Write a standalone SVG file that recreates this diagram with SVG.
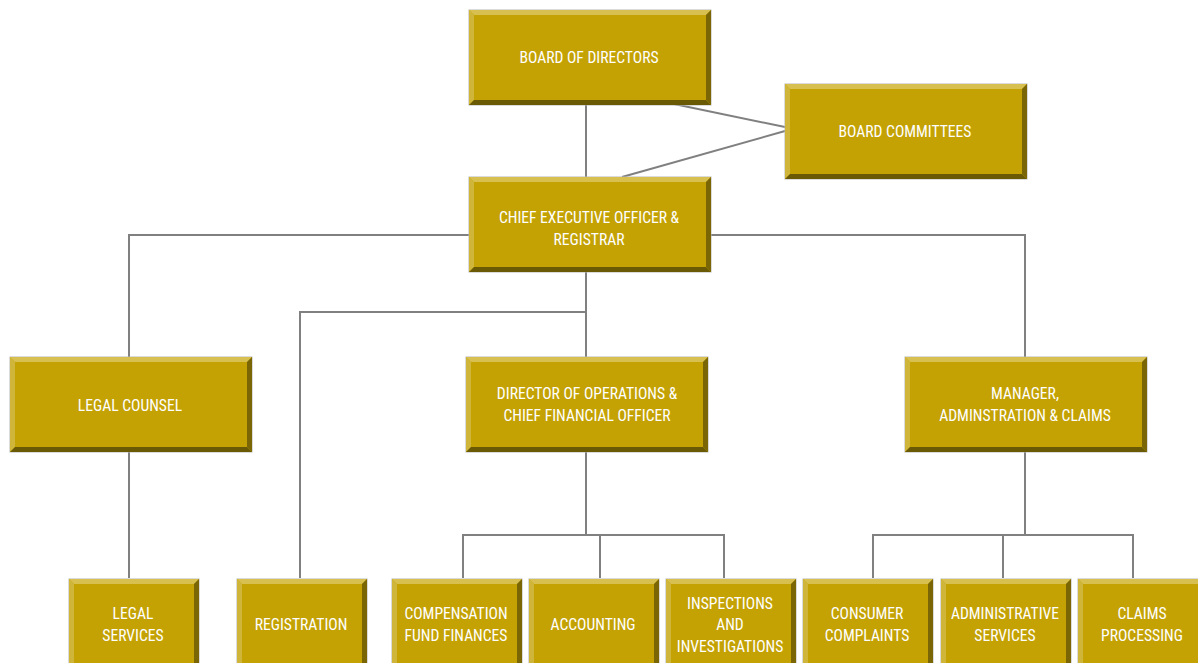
<svg xmlns="http://www.w3.org/2000/svg" xmlns:xlink="http://www.w3.org/1999/xlink" width="1198" height="663" viewBox="0 0 1198 663">
<style>
.c{stroke:#808080;stroke-width:2;fill:none}
.t{font-family:"Liberation Sans Narrow","Roboto Condensed","Liberation Sans",Arial,sans-serif;font-size:15.6px;fill:#fff;text-anchor:middle;font-stretch:condensed}
</style>
<defs>
<g id="big">
<rect x="-0.5" y="-0.5" width="243" height="96" fill="#b8b8b8"/>
<rect x="0" y="0" width="242" height="95" fill="#C4A204"/>
<polygon points="0,0 242,0 237,5 5,5" fill="#D8C050"/>
<polygon points="0,0 5,5 5,90 0,95" fill="#CFB53A"/>
<polygon points="0,95 5,90 237,90 242,95" fill="#6B5A05"/>
<polygon points="242,0 242,95 237,90 237,5" fill="#7A6604"/>
</g>
<g id="small">
<rect x="-0.5" y="-0.5" width="131" height="111" fill="#b8b8b8"/>
<rect x="0" y="0" width="130" height="110" fill="#C4A204"/>
<polygon points="0,0 130,0 125,5 5,5" fill="#D8C050"/>
<polygon points="0,0 5,5 5,110 0,110" fill="#CFB53A"/>
<polygon points="130,0 130,110 125,110 125,5" fill="#7A6604"/>
</g>
</defs>
<rect width="1198" height="663" fill="#fff"/>
<g id="connectors">
<path class="c" d="M586,105V177"/>
<path class="c" d="M674,104L785,127"/>
<path class="c" d="M622,177L785,131"/>
<path class="c" d="M469,235H129V357"/>
<path class="c" d="M711,235H1025V357"/>
<path class="c" d="M586,272V357"/>
<path class="c" d="M586,312H300V578"/>
<path class="c" d="M129,452V578"/>
<path class="c" d="M586,452V535"/>
<path class="c" d="M463,578V535H724V578"/>
<path class="c" d="M600,535V578"/>
<path class="c" d="M1025,452V535"/>
<path class="c" d="M873,578V535H1133V578"/>
<path class="c" d="M1003,535V578"/>
</g>
<g id="board"><use xlink:href="#big" href="#big" transform="translate(469,10)"/><text class="t" x="589" y="63">BOARD OF DIRECTORS</text></g>
<g id="committees"><use xlink:href="#big" href="#big" transform="translate(785,84)"/><text class="t" x="905" y="137">BOARD COMMITTEES</text></g>
<g id="ceo"><use xlink:href="#big" href="#big" transform="translate(469,177)"/><text class="t" x="589" y="223">CHIEF EXECUTIVE OFFICER &amp;</text><text class="t" x="589" y="245">REGISTRAR</text></g>
<g id="legal"><use xlink:href="#big" href="#big" transform="translate(10,357)"/><text class="t" x="130" y="411">LEGAL COUNSEL</text></g>
<g id="dops"><use xlink:href="#big" href="#big" transform="translate(466,357)"/><text class="t" x="587" y="399">DIRECTOR OF OPERATIONS &amp;</text><text class="t" x="587" y="421">CHIEF FINANCIAL OFFICER</text></g>
<g id="manager"><use xlink:href="#big" href="#big" transform="translate(905,357)"/><text class="t" x="1025" y="399">MANAGER,</text><text class="t" x="1025" y="421">ADMINSTRATION &amp; CLAIMS</text></g>
<g id="legalsvc"><use xlink:href="#small" href="#small" transform="translate(69,579)"/><text class="t" x="133" y="619">LEGAL</text><text class="t" x="133" y="641">SERVICES</text></g>
<g id="registration"><use xlink:href="#small" href="#small" transform="translate(237,579)"/><text class="t" x="301" y="630">REGISTRATION</text></g>
<g id="compensation"><use xlink:href="#small" href="#small" transform="translate(392,579)"/><text class="t" x="456" y="619">COMPENSATION</text><text class="t" x="456" y="641">FUND FINANCES</text></g>
<g id="accounting"><use xlink:href="#small" href="#small" transform="translate(529,579)"/><text class="t" x="593" y="630">ACCOUNTING</text></g>
<g id="inspections"><use xlink:href="#small" href="#small" transform="translate(666,579)"/><text class="t" x="730" y="609">INSPECTIONS</text><text class="t" x="730" y="630">AND</text><text class="t" x="730" y="652">INVESTIGATIONS</text></g>
<g id="consumer"><use xlink:href="#small" href="#small" transform="translate(803,579)"/><text class="t" x="867" y="619">CONSUMER</text><text class="t" x="867" y="641">COMPLAINTS</text></g>
<g id="admin"><use xlink:href="#small" href="#small" transform="translate(941,579)"/><text class="t" x="1005" y="619">ADMINISTRATIVE</text><text class="t" x="1005" y="641">SERVICES</text></g>
<g id="claims"><use xlink:href="#small" href="#small" transform="translate(1078,579)"/><text class="t" x="1142" y="619">CLAIMS</text><text class="t" x="1142" y="641">PROCESSING</text></g>
</svg>
